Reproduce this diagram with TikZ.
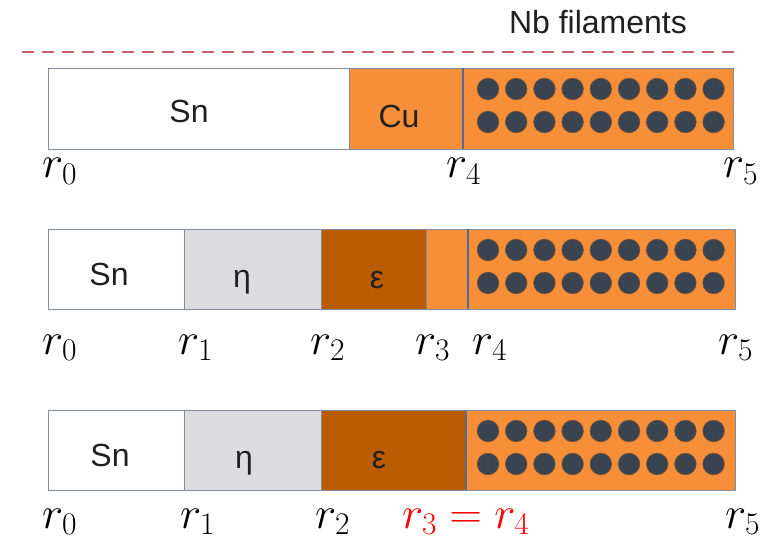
\RequirePackage{fix-cm}
\documentclass[tikz,border=0pt]{standalone}
\usepackage[no-math]{fontspec}
\newfontfamily\arialfont{Liberation Sans}
\usetikzlibrary{calc}
\definecolor{cuorange}{RGB}{247,142,56}
\definecolor{epsbrown}{RGB}{186,93,2}
\definecolor{etagray}{RGB}{221,221,223}
\definecolor{edgegray}{RGB}{128,140,162}
\definecolor{edgeblue}{RGB}{78,108,160}
\definecolor{dotgray}{RGB}{58,68,80}
\definecolor{dotedge}{RGB}{110,80,60}
\definecolor{cutred}{RGB}{208,92,112}
\definecolor{inkgray}{RGB}{32,32,32}
\tikzset{
  layer/.style={
    draw=edgegray,
    line width=0.9pt
  },
  divider/.style={
    draw=edgeblue,
    line width=1.2pt
  },
  cut line/.style={
    draw=cutred,
    line width=1.6pt,
    dash pattern=on 12pt off 8pt
  },
  filament/.style={
    fill=dotgray,
    draw=dotedge,
    line width=0.6pt
  },
  phase text/.style={
    inner sep=0pt,
    text=inkgray,
    font=\arialfont\fontsize{32}{36}\selectfont
  },
  radius label/.style={
    anchor=base west,
    inner sep=0pt,
    font=\fontsize{45}{50}\selectfont
  }
}

\begin{document}
\begin{tikzpicture}[x=1pt, y=-1pt]
    \useasboundingbox (0,0) rectangle (779,548);

    % 剖面线与标题
    \node[phase text] (nbtitle) at (598,22) {Nb filaments};
    \draw[cut line] (22,52) -- (738,52);

    % 第一根: 初始状态
    \filldraw[layer, fill=white] (48,68) rectangle (349,149);
    \filldraw[layer, fill=cuorange] (349,68) rectangle (463,149);
    \filldraw[layer, fill=cuorange] (463,68) rectangle (733,149);
    \draw[divider] (463,68) -- (463,149);
    \node[phase text] (snA) at (189,111) {Sn};
    \node[phase text] (cuA) at (399,116) {Cu};

    % 第二根: 反应中
    \filldraw[layer, fill=white] (48,229) rectangle (184,309);
    \filldraw[layer, fill=etagray] (184,229) rectangle (321,309);
    \filldraw[layer, fill=epsbrown] (321,229) rectangle (426,309);
    \filldraw[layer, fill=cuorange] (426,229) rectangle (468,309);
    \filldraw[layer, fill=cuorange] (468,229) rectangle (735,309);
    \draw[divider] (468,229) -- (468,309);
    \node[phase text] (snB) at (109,274) {Sn};
    \node[phase text] (etaB) at (242,282) {η};
    \node[phase text] (epsB) at (377,280) {ε};

    % 第三根: Cu 耗尽
    \filldraw[layer, fill=white] (48,410) rectangle (184,490);
    \filldraw[layer, fill=etagray] (184,410) rectangle (321,490);
    \filldraw[layer, fill=epsbrown] (321,410) rectangle (466,490);
    \filldraw[layer, fill=cuorange] (466,410) rectangle (735,490);
    \draw[divider] (466,410) -- (466,490);
    \node[phase text] (snC) at (110,455) {Sn};
    \node[phase text] (etaC) at (244,463) {η};
    \node[phase text] (epsC) at (379,460) {ε};

    % Nb 芯丝 (每根 2 行 x 9 个)
    \foreach \top in {68,229,410} {
      \foreach \i in {0,1,...,8} {
        \filldraw[filament] (488+28.2*\i, \top+21) circle[radius=10.8pt];
        \filldraw[filament] (488+28.2*\i, \top+54) circle[radius=10.8pt];
      }
    }

    % 半径标注
    \node[radius label] (rA0) at (42,178) {$r_0$};
    \node[radius label] (rA4) at (446,178) {$r_4$};
    \node[radius label] (rA5) at (723,178) {$r_5$};

    \node[radius label] (rB0) at (42,354) {$r_0$};
    \node[radius label] (rB1) at (178,354) {$r_1$};
    \node[radius label] (rB2) at (310,354) {$r_2$};
    \node[radius label] (rB3) at (415,354) {$r_3$};
    \node[radius label] (rB4) at (472,354) {$r_4$};
    \node[radius label] (rB5) at (718,354) {$r_5$};

    \node[radius label] (rC0) at (42,528) {$r_0$};
    \node[radius label] (rC1) at (180,528) {$r_1$};
    \node[radius label] (rC2) at (315,528) {$r_2$};
    \node[radius label, red] (rC34) at (402,528) {$r_3=r_4$};
    \node[radius label] (rC5) at (725,528) {$r_5$};

  \end{tikzpicture}
\end{document}
